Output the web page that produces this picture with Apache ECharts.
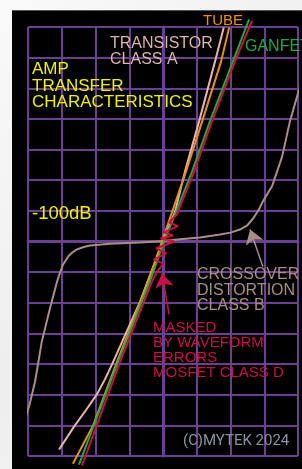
<!DOCTYPE html>
<html>
<head>
<meta charset="utf-8">
<script src="https://cdn.jsdelivr.net/npm/echarts@6/dist/echarts.min.js"></script>
<style>
  html, body { margin: 0; padding: 0; width: 302px; height: 469px; overflow: hidden;
    background: linear-gradient(135deg, #fafafa 0%, #eeeeee 50%, #f8f8f8 100%); }
  #chart { position: absolute; left: 12px; top: 10px; width: 290px; height: 459px;
    background: #000; border-top: 1px solid #555; box-sizing: border-box; }
</style>
</head>
<body>
<div id="chart"></div>
<script>
// transfer curves, [input, output] in grid units
const transistorClassA = [[-3.08, -6.79], [-2.82, -6.35], [-2.61, -6.0], [-2.28, -5.5], [-1.96, -4.99],
  [-1.72, -4.5], [-1.51, -4.01], [-1.1, -3.0], [-0.68, -1.96], [-0.35, -1.0], [0, 0], [0.36, 0.98],
  [0.65, 2.28], [1.07, 3.92], [1.54, 5.87], [1.8, 6.98]];
const tube = [[-2.67, -7.25], [-2.07, -6.0], [-1.36, -3.92], [-0.44, -1.31],
  [-0.03, 0], [0.68, 2.28], [1.16, 3.92], [1.72, 5.87], [1.96, 6.98]];
const ganfet = [[-2.49, -7.28], [-1.33, -3.92], [-0.39, -1.31], [0.03, 0],
  [0.39, 0.98], [0.86, 2.28], [1.39, 3.92], [2.07, 5.87], [2.55, 7.25]];
const mosfetClassD = [[-2.4, -7.31], [-1.27, -3.92], [-0.33, -1.31],
  [-0.18, -0.98], [0.02, -0.72], [-0.28, -0.59], [0.1, -0.39], [-0.2, -0.22], [0.34, 0], [-0.07, 0.1],
  [0.3, 0.2], [0.02, 0.3], [0.44, 0.5], [0.18, 0.62], [0.41, 0.88], [0.92, 2.28],
  [1.45, 3.92], [2.13, 5.87], [2.64, 7.21]];
const crossoverClassB = [[-4.15, -6.04], [-3.95, -5.3], [-3.79, -4.57], [-3.59, -3.26], [-3.35, -2.19],
  [-3.14, -1.31], [-3.04, -0.98], [-2.96, -0.75], [-2.81, -0.49], [-2.68, -0.35], [-2.55, -0.26],
  [-2.35, -0.18], [-2.16, -0.13], [-1.57, -0.07], [-0.68, -0.03], [0.03, 0.02], [0.5, 0.07], [1.1, 0.13],
  [1.69, 0.23], [2.0, 0.29], [2.28, 0.39], [2.5, 0.53], [2.67, 0.75], [2.83, 1.02], [2.96, 1.31],
  [3.23, 1.8], [3.53, 2.77], [3.76, 3.92], [4.12, 5.29]];

// annotation arrows, [from, to]
const crossoverArrow = [[2.96, -0.82], [2.58, 0.39]];
const maskedArrow = [[0.18, -2.38], [-0.03, -1.04]];

const grid = '#6a4190';
const font = '"Liberation Sans", Arial, sans-serif';

function curve(name, data, color) {
  return {
    name: name, type: 'line', data: data, showSymbol: false, clip: false,
    lineStyle: { color: color, width: 2 }, z: 3
  };
}

function arrow(coords, color) {
  return {
    type: 'lines', coordinateSystem: 'cartesian2d', z: 4,
    symbol: ['none', 'arrow'], symbolSize: [9, 14],
    lineStyle: { color: color, width: 1.5, opacity: 1, curveness: 0 },
    data: [{ coords: coords }]
  };
}

function label(text, x, y, color, size, lh, family) {
  return {
    type: 'text', left: x, top: y, z: 10,
    style: { text: text, fill: color, font: size + 'px ' + (family || font), lineHeight: lh || size }
  };
}

const chart = echarts.init(document.getElementById('chart'));
chart.setOption({
  animation: false,
  grid: { left: 16, top: 16, width: 270, height: 429 },
  xAxis: {
    type: 'value', min: -4, max: 4, interval: 1,
    axisLine: { show: true, onZero: true, lineStyle: { color: grid, width: 3 } },
    axisTick: { show: false }, axisLabel: { show: false },
    splitLine: { show: true, lineStyle: { color: grid, width: 2 } }
  },
  yAxis: {
    type: 'value', min: -7, max: 7, interval: 1,
    axisLine: { show: true, onZero: true, lineStyle: { color: grid, width: 3 } },
    axisTick: { show: false }, axisLabel: { show: false },
    splitLine: { show: true, lineStyle: { color: grid, width: 2 } }
  },
  series: [
    curve('crossover', crossoverClassB, '#a88e88'),
    curve('transistor', transistorClassA, '#e6b5b0'),
    curve('tube', tube, '#e8901e'),
    curve('ganfet', ganfet, '#1fa84a'),
    curve('mosfet', mosfetClassD, '#d0103c'),
    arrow(crossoverArrow, '#a88e88'),
    arrow(maskedArrow, '#c8104a')
  ],
  graphic: [
    label('TUBE', 191, 2, '#e8901e', 15),
    label('TRANSISTOR\nCLASS A', 98, 25, '#dcb3ae', 16, 16),
    label('GANFET', 233, 28, '#1fa84a', 16),
    label('AMP\nTRANSFER\nCHARACTERISTICS', 20, 50, '#f0f000', 17, 16.5),
    label('-100dB', 20, 193, '#f0f000', 18.5),
    label('CROSSOVER\nDISTORTION\nCLASS B', 185, 256, '#a88e88', 16, 15.5),
    label('MASKED\nBY WAVEFORM\nERRORS\nMOSFET CLASS D', 141, 309, '#c8104a', 15, 15),
    label('(C)MYTEK 2024', 171, 423, '#8a93a0', 15, 15, 'Roboto, sans-serif')
  ]
});
</script>
</body>
</html>
